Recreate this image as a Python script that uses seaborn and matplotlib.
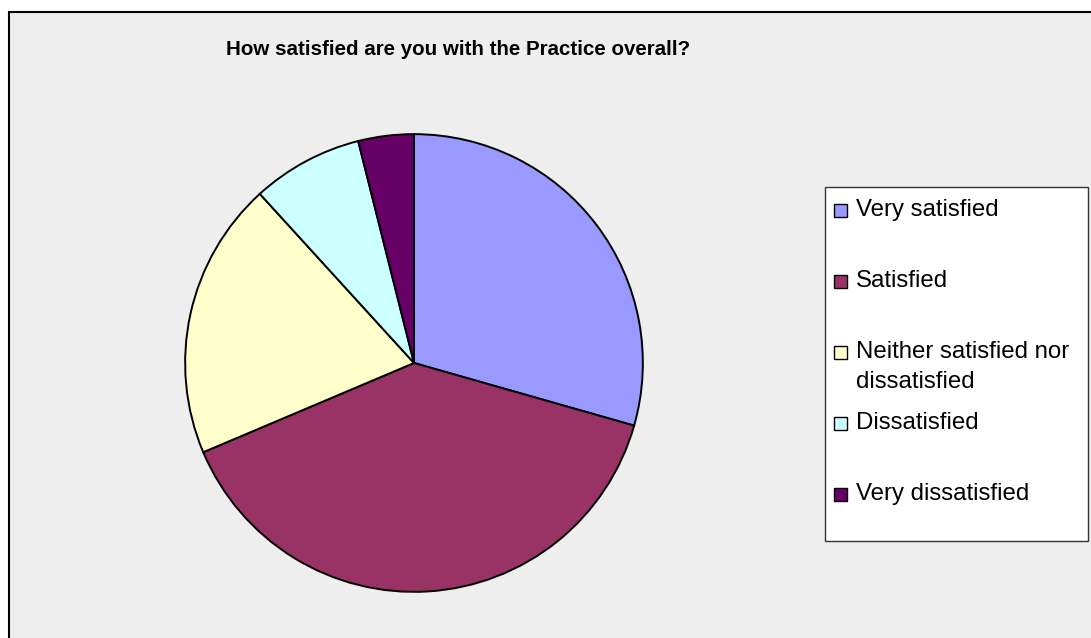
import textwrap
import matplotlib
matplotlib.use("Agg")
import matplotlib.pyplot as plt
from matplotlib.patches import Rectangle
import seaborn as sns

# Survey responses
categories = ["Very satisfied", "Satisfied", "Neither satisfied nor dissatisfied",
              "Dissatisfied", "Very dissatisfied"]
responses = [15, 20, 10, 4, 2]
colors = ["#9999FF", "#993366", "#FFFFCC", "#CCFFFF", "#660066"]
title = "How satisfied are you with the Practice overall?"

sns.set_style("white")
plt.rcParams["font.family"] = ["Liberation Sans", "DejaVu Sans"]

W, H, DPI = 1091, 638, 100
fig = plt.figure(figsize=(W / DPI, H / DPI), dpi=DPI, facecolor="white")


def fx(x):
    return x / W


def fy(y):
    return 1 - y / H


def px2pt(p):
    return p * 72 / DPI


# chart area background with its frame
fig.patches.append(Rectangle((fx(9), -0.1), 1.2, fy(12) + 0.1, transform=fig.transFigure,
                             facecolor="#EEEEEE", edgecolor="black", linewidth=1.5,
                             zorder=0))

# pie
cx, cy, r = 414, 363, 230
ax = fig.add_axes([fx(cx - r), fy(cy + r), 2 * r / W, 2 * r / H])
ax.set_zorder(2)
ax.pie(responses, colors=sns.color_palette(colors), startangle=90, counterclock=False,
       wedgeprops=dict(edgecolor="black", linewidth=1.4))
ax.set_xlim(-1.005, 1.005)
ax.set_ylim(-1.005, 1.005)
ax.set_aspect("equal")
ax.axis("off")

# title
fig.text(fx(458), fy(55), title, ha="center", va="baseline",
         fontsize=px2pt(20.5), fontweight="bold", color="black", zorder=3)

# legend
fig.patches.append(Rectangle((fx(825), fy(541)), (1088 - 825) / W, (541 - 187) / H,
                             transform=fig.transFigure, facecolor="white",
                             edgecolor="#333333", linewidth=1.0, zorder=1))
for i, (cat, col) in enumerate(zip(categories, colors)):
    base = 216 + 71 * i
    fig.patches.append(Rectangle((fx(834), fy(base + 1)), 13 / W, 13 / H,
                                 transform=fig.transFigure, facecolor=col,
                                 edgecolor="black", linewidth=1.0, zorder=2))
    for j, line in enumerate(textwrap.wrap(cat, 22)):
        fig.text(fx(856), fy(base + 30 * j), line, ha="left", va="baseline",
                 fontsize=px2pt(24), color="black", zorder=3)

fig.savefig("out.png", dpi=DPI, facecolor="white")
